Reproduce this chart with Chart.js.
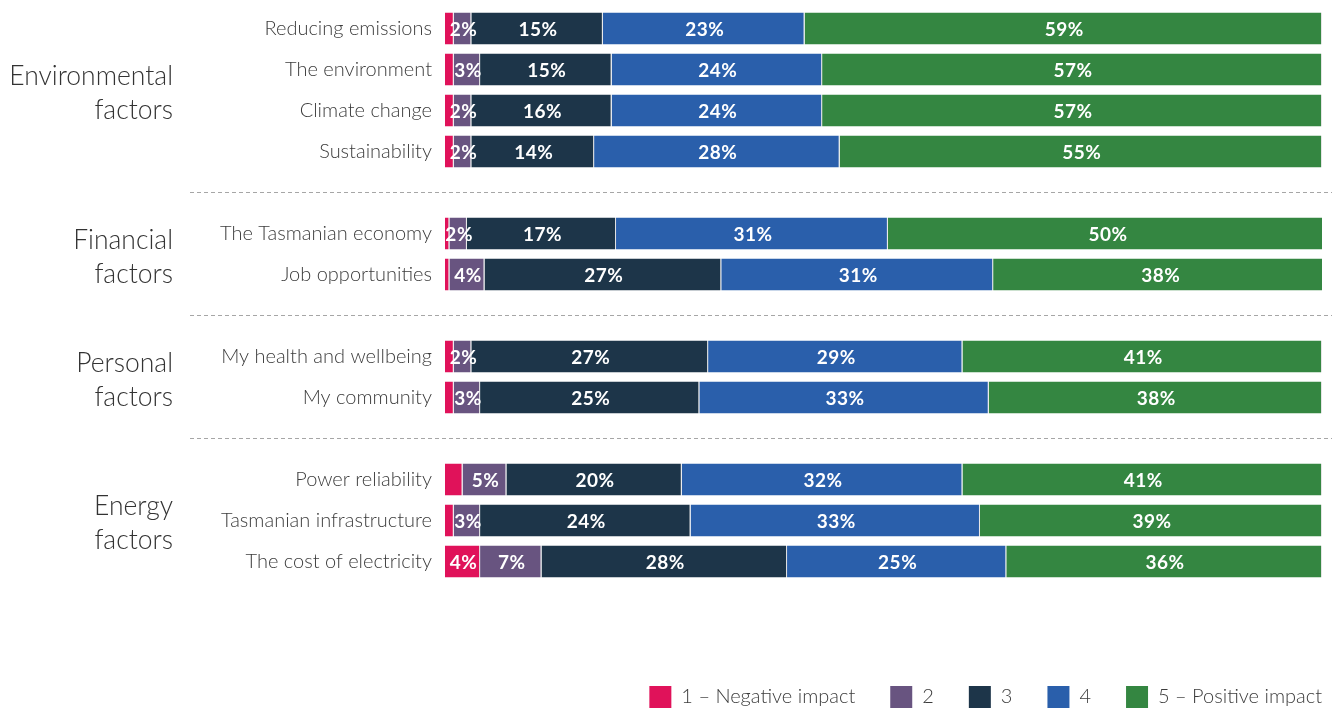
<!DOCTYPE html>
<html>
<head>
<meta charset="utf-8">
<script src="https://cdn.jsdelivr.net/npm/chart.js@4.4.1/dist/chart.umd.min.js"></script>
<style>
  html, body { margin: 0; padding: 0; background: #ffffff; }
  #wrap { width: 1335px; height: 711px; }
</style>
</head>
<body>
<div id="wrap"><canvas id="c" width="1335" height="711"></canvas></div>
<script>
// Rows of the chart; empty strings are spacer rows between factor groups.
const categories = [
  'Reducing emissions', 'The environment', 'Climate change', 'Sustainability', '',
  'The Tasmanian economy', 'Job opportunities', '',
  'My health and wellbeing', 'My community', '',
  'Power reliability', 'Tasmanian infrastructure', 'The cost of electricity'
];

// Share of responses (%) for each impact rating, one value per row.
const impact1 = [1, 1, 1, 1, null, 0.5, 0.5, null, 1, 1, null, 2, 1, 4];
const impact2 = [2, 3, 2, 2, null, 2, 4, null, 2, 3, null, 5, 3, 7];
const impact3 = [15, 15, 16, 14, null, 17, 27, null, 27, 25, null, 20, 24, 28];
const impact4 = [23, 24, 24, 28, null, 31, 31, null, 29, 33, null, 32, 33, 25];
const impact5 = [59, 57, 57, 55, null, 50, 38, null, 41, 38, null, 41, 39, 36];

const seriesNames = ['1 \u2013 Negative impact', '2', '3', '4', '5 \u2013 Positive impact'];
const seriesColors = ['#E0125A', '#685480', '#1D3549', '#2A5FAB', '#348641'];
// Smallest value that gets a printed label in each series.
const labelMin = [4, 1, 1, 1, 1];

// Factor groups: heading lines and the first/last row they span.
const groupNames = [['Environmental', 'factors'], ['Financial', 'factors'], ['Personal', 'factors'], ['Energy', 'factors']];
const groupFirstRow = [0, 5, 8, 11];
const groupLastRow = [3, 6, 9, 13];
// Spacer rows that carry a dashed divider.
const dividerRows = [4, 7, 10];

const FONT = 'Lato, "Noto Sans", sans-serif';
const LEGEND_GAP = 35;

const seriesData = [impact1, impact2, impact3, impact4, impact5];

const valueLabels = {
  id: 'valueLabels',
  afterDatasetsDraw(chart) {
    const ctx = chart.ctx;
    ctx.save();
    ctx.font = '700 19px ' + FONT;
    ctx.fillStyle = '#ffffff';
    ctx.textAlign = 'center';
    ctx.textBaseline = 'middle';
    if ('letterSpacing' in ctx) ctx.letterSpacing = '0.5px';
    chart.data.datasets.forEach((ds, di) => {
      const meta = chart.getDatasetMeta(di);
      meta.data.forEach((bar, i) => {
        const v = ds.data[i];
        if (v == null || v < labelMin[di]) return;
        const p = bar.getProps(['x', 'base', 'y'], true);
        ctx.fillText(v + '%', (p.x + p.base) / 2 + 1, p.y + 1);
      });
    });
    ctx.restore();
  }
};

const groupHeadings = {
  id: 'groupHeadings',
  afterLayout(chart) {
    // keep the legend flush with the right end of the bars
    const lg = chart.legend;
    if (lg) { lg.left += LEGEND_GAP; lg.right += LEGEND_GAP; }
  },
  beforeDatasetsDraw(chart) {
    const ctx = chart.ctx;
    const y = chart.scales.y;
    ctx.save();
    // dashed dividers between groups
    ctx.strokeStyle = '#a6a6a6';
    ctx.lineWidth = 1;
    ctx.setLineDash([4, 3]);
    dividerRows.forEach(r => {
      const py = Math.round(y.getPixelForValue(r)) - 0.5;
      ctx.beginPath();
      ctx.moveTo(190, py);
      ctx.lineTo(chart.width - 3, py);
      ctx.stroke();
    });
    ctx.setLineDash([]);
    // group headings, right-aligned in the left margin
    ctx.font = '300 26.5px ' + FONT;
    ctx.fillStyle = '#333333';
    ctx.textAlign = 'right';
    ctx.textBaseline = 'middle';
    groupNames.forEach((lines, g) => {
      const mid = (y.getPixelForValue(groupFirstRow[g]) + y.getPixelForValue(groupLastRow[g])) / 2 + 3;
      ctx.fillText(lines[0], 173, mid - 17);
      ctx.fillText(lines[1], 173, mid + 17);
    });
    ctx.restore();
  }
};

new Chart(document.getElementById('c'), {
  type: 'bar',
  data: {
    labels: categories,
    datasets: seriesData.map((d, i) => ({
      label: seriesNames[i],
      data: d,
      backgroundColor: seriesColors[i],
      borderColor: 'rgba(225,225,225,0.9)',
      borderWidth: { top: 0, bottom: 0, left: 0, right: 1 },
      borderSkipped: false,
      barPercentage: 0.78,
      categoryPercentage: 1
    }))
  },
  options: {
    indexAxis: 'y',
    responsive: false,
    animation: false,
    layout: { padding: { top: 8, right: 13, left: 0, bottom: -7 } },
    scales: {
      x: {
        stacked: true, min: 0, max: 100,
        grid: { display: false, drawTicks: false },
        border: { display: false },
        ticks: { display: false },
        afterFit(s) { s.height = 69; }
      },
      y: {
        stacked: true,
        grid: { display: false, drawTicks: false },
        border: { display: false },
        ticks: { autoSkip: false, padding: 13, color: '#3c3c3c', font: { family: FONT, size: 20, weight: '300' } },
        afterFit(s) { s.width = 445; s.paddingTop = 0; s.paddingBottom = 0; }
      }
    },
    plugins: {
      tooltip: { enabled: false },
      legend: {
        position: 'bottom',
        align: 'end',
        labels: {
          boxWidth: 22,
          boxHeight: 22,
          padding: LEGEND_GAP,
          color: '#3c3c3c',
          font: { family: FONT, size: 20, weight: '300' },
          generateLabels(chart) {
            return Chart.defaults.plugins.legend.labels.generateLabels(chart).map(it => {
              it.lineWidth = 0;
              it.strokeStyle = 'rgba(0,0,0,0)';
              return it;
            });
          }
        }
      }
    }
  },
  plugins: [groupHeadings, valueLabels]
});
</script>
</body>
</html>
